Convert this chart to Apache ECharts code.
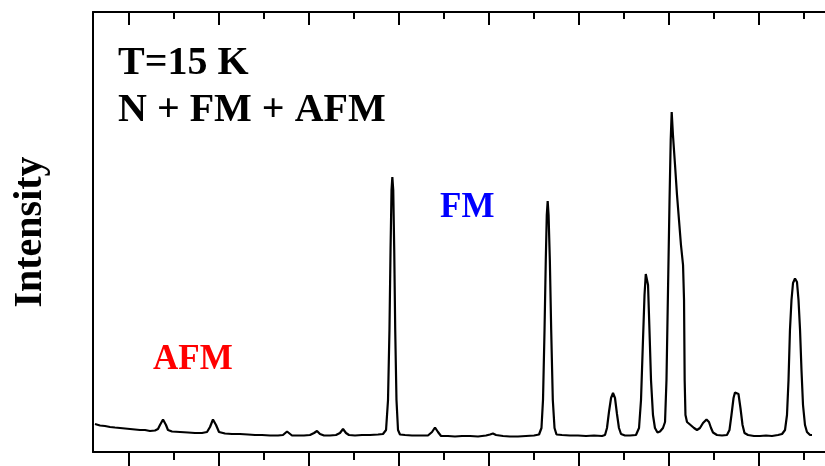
<!DOCTYPE html>
<html>
<head>
<meta charset="utf-8">
<title>Diffraction pattern, T=15 K</title>
<script src="https://cdn.jsdelivr.net/npm/echarts@6/dist/echarts.min.js"></script>
<style>
  html, body { margin: 0; padding: 0; background: #fff; overflow: hidden; }
  /* the canvas is wider than the window: the plot frame runs past its right edge */
  #chart { width: 860px; height: 466px; }
</style>
</head>
<body>
<div id="chart"></div>
<script>
// Scattering angle 2θ (degrees)
const twoTheta = [
  6.22, 6.78, 7.33, 7.89, 8.44, 9.00, 9.56, 10.11, 10.67, 11.22, 11.78, 12.33, 12.89, 13.22, 13.44, 13.78, 14.11, 14.33, 14.78,
  15.67, 16.56, 17.33, 18.11, 18.67, 19.00, 19.33, 19.44, 19.67, 20.00, 20.67, 21.44, 22.33, 23.22, 24.00, 24.78, 25.67, 26.56,
  27.11, 27.33, 27.56, 27.78, 28.11, 28.78, 29.44, 30.11, 30.56, 30.89, 31.22, 31.67, 32.33, 33.00, 33.44, 33.78, 34.11, 34.44,
  35.11, 35.89, 36.78, 37.67, 38.22, 38.56, 38.78, 38.94, 39.06, 39.17, 39.26, 39.36, 39.47, 39.58, 39.72, 39.89, 40.11, 40.67,
  41.44, 42.33, 43.22, 43.67, 44.00, 44.33, 44.67, 45.44, 46.22, 47.00, 47.89, 48.78, 49.67, 50.11, 50.44, 50.78, 51.56, 52.33,
  53.22, 54.11, 55.00, 55.56, 55.83, 56.00, 56.17, 56.31, 56.42, 56.52, 56.62, 56.76, 56.91, 57.09, 57.28, 57.50, 58.11, 59.00,
  59.89, 60.78, 61.67, 62.56, 62.89, 63.11, 63.33, 63.56, 63.78, 64.00, 64.22, 64.44, 64.67, 65.11, 65.67, 66.33, 66.67, 66.89,
  67.11, 67.28, 67.42, 67.53, 67.67, 67.83, 68.00, 68.22, 68.44, 68.72, 69.00, 69.33, 69.56, 69.72, 69.89, 70.06, 70.19, 70.30,
  70.44, 70.67, 70.89, 71.11, 71.33, 71.56, 71.67, 71.74, 71.83, 72.00, 72.33, 72.78, 73.11, 73.44, 73.78, 74.17, 74.44, 74.67,
  74.89, 75.33, 75.89, 76.44, 76.72, 76.94, 77.17, 77.33, 77.52, 77.72, 77.94, 78.17, 78.39, 78.78, 79.44, 80.11, 80.78, 81.44,
  82.11, 82.56, 82.89, 83.11, 83.28, 83.44, 83.61, 83.78, 84.00, 84.22, 84.39, 84.56, 84.72, 84.89, 85.11, 85.33, 85.67, 85.89
];

// Measured intensity (counts)
const intensity = [
  280, 265, 260, 250, 245, 240, 235, 230, 225, 220, 220, 210, 215, 230, 270, 325, 270, 220, 205,
  200, 195, 190, 190, 200, 250, 325, 325, 270, 200, 185, 180, 180, 175, 170, 170, 165, 165,
  170, 190, 205, 190, 165, 165, 165, 170, 190, 210, 180, 165, 165, 170, 190, 230, 190, 170,
  165, 170, 170, 175, 180, 220, 520, 1220, 2020, 2620, 2750, 2620, 2020, 1220, 520, 220, 175, 170,
  165, 165, 165, 200, 245, 200, 160, 160, 155, 160, 160, 155, 165, 175, 185, 170, 160, 155,
  155, 160, 165, 175, 240, 520, 1220, 1920, 2370, 2510, 2370, 1920, 1220, 520, 240, 175, 170, 165,
  165, 160, 165, 160, 170, 240, 400, 540, 590, 540, 380, 240, 180, 165, 165, 170, 240, 520,
  1120, 1570, 1780, 1800, 1670, 1220, 720, 370, 240, 195, 205, 240, 300, 720, 1620, 2520, 3120, 3400,
  3170, 2870, 2570, 2320, 2070, 1870, 1520, 720, 370, 300, 275, 240, 220, 240, 290, 325, 300, 240,
  195, 170, 165, 170, 220, 370, 540, 595, 605, 580, 440, 270, 190, 170, 160, 160, 165, 160,
  170, 180, 220, 370, 720, 1220, 1520, 1690, 1735, 1700, 1520, 1220, 820, 470, 270, 200, 170, 170
];

// Tick positions on the 2θ axis
const majorTicks = [10, 20, 30, 40, 50, 60, 70, 80, 90];
const minorTicks = [15, 25, 35, 45, 55, 65, 75, 85];

const xMin = 6, xMax = 90;
const yMin = 0, yMax = 4400;

const serif = '"Liberation Serif", "Times New Roman", "DejaVu Serif", serif';

const chart = echarts.init(document.getElementById('chart'), null, { renderer: 'canvas' });

function tickAxis(position, values, length, inside, showLine) {
  return {
    type: 'value',
    position: position,
    min: xMin,
    max: xMax,
    axisLine: { show: showLine, onZero: false, lineStyle: { color: '#000', width: 2 } },
    axisTick: { show: true, inside: inside, length: length, customValues: values,
                lineStyle: { color: '#000', width: 2 } },
    axisLabel: { show: false },
    splitLine: { show: false }
  };
}

const option = {
  backgroundColor: '#ffffff',
  animation: false,
  grid: { left: 93, top: 12, right: 11, bottom: 14, outerBoundsMode: 'none' },
  xAxis: [
    tickAxis('bottom', majorTicks, 14, false, true),
    tickAxis('bottom', minorTicks, 8, false, false),
    tickAxis('top', majorTicks, 13, true, true),
    tickAxis('top', minorTicks, 7, true, false)
  ],
  yAxis: {
    type: 'value',
    min: yMin,
    max: yMax,
    name: 'Intensity',
    nameLocation: 'middle',
    nameRotate: 90,
    nameGap: 42,
    nameTextStyle: { fontFamily: serif, fontWeight: 'bold', fontSize: 40, color: '#000' },
    axisLine: { show: true, lineStyle: { color: '#000', width: 2 } },
    axisTick: { show: false },
    axisLabel: { show: false },
    splitLine: { show: false }
  },
  series: [{
    type: 'line',
    xAxisIndex: 0,
    yAxisIndex: 0,
    data: twoTheta.map((t, i) => [t, intensity[i]]),
    showSymbol: false,
    smooth: false,
    lineStyle: { color: '#000', width: 2.2 },
    clip: true
  }],
  graphic: [
    { type: 'text', left: 118, top: 44,
      style: { text: 'T=15 K', font: 'bold 40px ' + serif, fill: '#000' } },
    { type: 'text', left: 118, top: 91,
      style: { text: 'N + FM + AFM', font: 'bold 40px ' + serif, fill: '#000' } },
    { type: 'text', left: 440, top: 190,
      style: { text: 'FM', font: 'bold 35px ' + serif, fill: '#0000ff' } },
    { type: 'text', left: 153, top: 342,
      style: { text: 'AFM', font: 'bold 35px ' + serif, fill: '#ff0000' } }
  ]
};

chart.setOption(option);
</script>
</body>
</html>
